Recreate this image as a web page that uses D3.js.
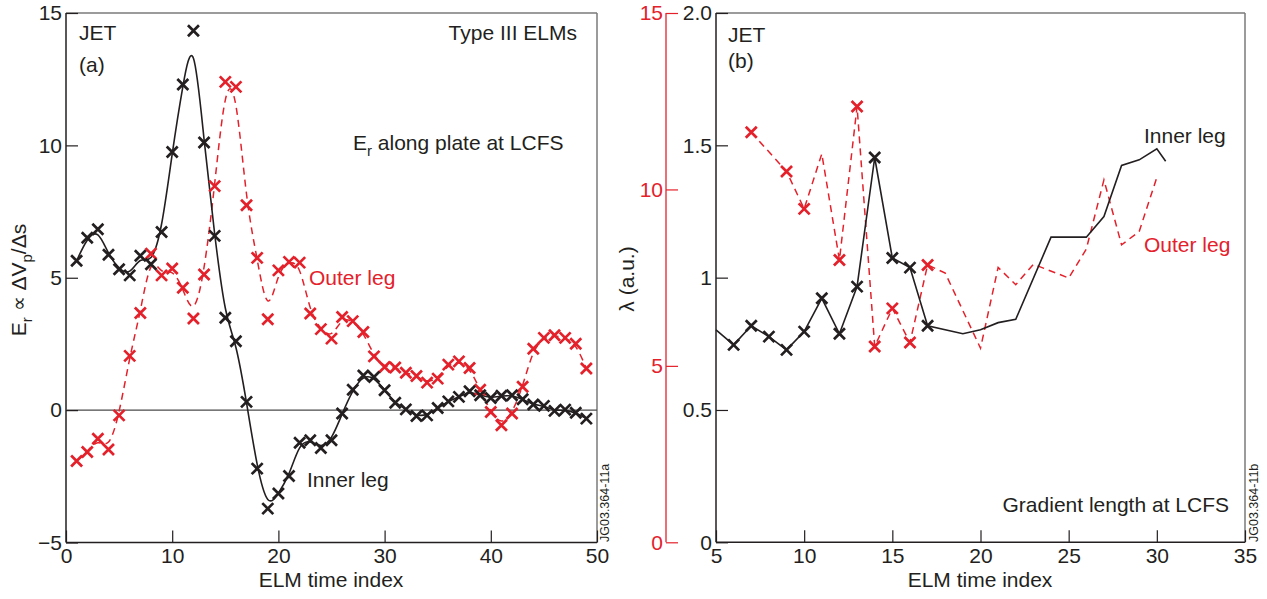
<!DOCTYPE html>
<html>
<head>
<meta charset="utf-8">
<script src="https://cdn.jsdelivr.net/npm/d3@7"></script>
<style>
  body { margin: 0; background: #fff; }
  svg text { font-family: "Liberation Sans", Arial, sans-serif; fill: #231f20; }
</style>
</head>
<body>
<div id="chart"></div>
<script>
////////////////////////////////////////////////
// data

// (a) Er along plate at LCFS
var elmIndexA = [1,2,3,4,5,6,7,8,9,10,11,12,13,14,15,16,17,18,19,20,21,22,23,24,25,
                 26,27,28,29,30,31,32,33,34,35,36,37,38,39,40,41,42,43,44,45,46,47,48,49];
var innerEr = [5.64,6.51,6.83,5.87,5.32,5.09,5.83,5.51,6.73,9.75,
               12.30,14.33,10.11,6.58,3.49,2.60,0.31,-2.21,-3.72,-3.15,
               -2.49,-1.23,-1.14,-1.43,-1.14,-0.13,0.77,1.31,1.25,0.75,
               0.28,0.03,-0.22,-0.20,0.08,0.33,0.50,0.71,0.56,0.46,
               0.54,0.56,0.41,0.21,0.16,-0.03,0.02,-0.10,-0.32];
var outerEr = [-1.92,-1.58,-1.08,-1.49,-0.20,2.05,3.67,5.91,5.09,5.35,
               4.62,3.46,5.12,8.46,12.40,12.21,7.74,5.75,3.43,5.28,
               5.60,5.57,3.65,3.06,2.70,3.52,3.36,2.95,2.03,1.63,
               1.61,1.41,1.29,1.04,1.19,1.72,1.84,1.59,0.77,-0.07,
               -0.57,-0.13,0.88,2.32,2.73,2.83,2.73,2.51,1.57];
var xTicksA = [0,10,20,30,40,50];
var yTicksA = [-5,0,5,10,15];

// (b) gradient length at LCFS
var innerMarkIdx = [6,7,8,9,10,11,12,13,14,15,16,17];
var innerMarkLambda = [0.746,0.818,0.777,0.727,0.796,0.922,0.788,0.966,1.454,1.074,1.038,0.818];
var innerLineIdx = [5,6,7,8,9,10,11,12,13,14,15,16,17,19,20,21,22,24,26,27,28,29,30,30.5];
var innerLineLambda = [0.803,0.746,0.818,0.777,0.727,0.796,0.922,0.788,0.966,1.454,1.074,1.038,0.818,
                       0.788,0.803,0.830,0.843,1.153,1.153,1.231,1.424,1.445,1.487,1.440];
var outerMarkIdx = [7,9,10,12,13,14,15,16,17];
var outerMarkVal = [11.62,10.51,9.45,8.00,12.35,5.55,6.63,5.66,7.86];
var outerLineIdx = [7,9,10,11,12,13,14,15,16,17,18,20,21,22,23,25,26,27,28,29,30];
var outerLineVal = [11.62,10.51,9.45,11.01,8.00,12.35,5.55,6.63,5.66,7.86,7.63,
                    5.50,7.79,7.30,7.88,7.49,8.31,10.27,8.43,8.81,10.34];
var xTicksB = [5,10,15,20,25,30,35];
var lambdaTicks = [0,0.5,1,1.5,2];
var lambdaTickLabels = ["0","0.5","1","1.5","2.0"];
var redTicks = [0,5,10,15];

////////////////////////////////////////////////

var red = '#e4212b';
var ink = '#231f20';
var frameGrey = '#7a7a7a';
var fs = 21;

var svg = d3.select('#chart').append('svg')
    .attr('width', 1267)
    .attr('height', 599);

function cross(g, pts, color){
    g.selectAll(null)
        .data(pts)
        .enter()
        .append('path')
        .attr('d', 'M-5.5,-5.5L5.5,5.5M-5.5,5.5L5.5,-5.5')
        .attr('transform', function(d){ return 'translate(' + d[0] + ',' + d[1] + ')'; })
        .attr('stroke', color)
        .attr('stroke-width', 2.7)
        .attr('fill', 'none');
}

function styleAxis(g, color){
    g.select('.domain').remove();
    g.selectAll('.tick line').attr('stroke', color).attr('stroke-width', 1.2);
    g.selectAll('.tick text')
        .attr('font-size', fs)
        .attr('font-family', '"Liberation Sans", Arial, sans-serif')
        .style('fill', color);
}

function label(x, y, txt, opts){
    opts = opts || {};
    return svg.append('text')
        .attr('x', x)
        .attr('y', y)
        .attr('font-size', opts.size || fs)
        .attr('text-anchor', opts.anchor || 'start')
        .style('fill', opts.color || ink)
        .text(txt);
}

////////////////////////////////////////////////
// panel (a)

var ax = d3.scaleLinear().domain([0, 50]).range([66, 597]);
var ay = d3.scaleLinear().domain([-5, 15]).range([542.5, 13]);

var pa = svg.append('g');

// frame
pa.append('line').attr('x1', ax(0)).attr('x2', ax(50)).attr('y1', ay(15)).attr('y2', ay(15))
    .attr('stroke', frameGrey).attr('stroke-width', 1.5);
pa.append('line').attr('x1', ax(50)).attr('x2', ax(50)).attr('y1', ay(15)).attr('y2', ay(-5))
    .attr('stroke', frameGrey).attr('stroke-width', 1.5);
pa.append('line').attr('x1', ax(0)).attr('x2', ax(50)).attr('y1', ay(-5)).attr('y2', ay(-5))
    .attr('stroke', ink).attr('stroke-width', 1.5);
pa.append('line').attr('x1', ax(0)).attr('x2', ax(0)).attr('y1', ay(15)).attr('y2', ay(-5))
    .attr('stroke', ink).attr('stroke-width', 1.5);
// zero line
pa.append('line').attr('x1', ax(0)).attr('x2', ax(50)).attr('y1', ay(0)).attr('y2', ay(0))
    .attr('stroke', '#4a4a4a').attr('stroke-width', 1.2);

var axA = pa.append('g')
    .attr('transform', 'translate(0,' + ay(-5) + ')')
    .call(d3.axisBottom(ax).tickValues(xTicksA).tickSizeInner(-12).tickSizeOuter(0).tickPadding(6));
styleAxis(axA, ink);
var ayA = pa.append('g')
    .attr('transform', 'translate(' + ax(0) + ',0)')
    .call(d3.axisLeft(ay).tickValues(yTicksA).tickSizeInner(-12).tickSizeOuter(0).tickPadding(4));
styleAxis(ayA, ink);

var smooth = d3.line().curve(d3.curveBasis);

var outerPtsA = elmIndexA.map(function(d, i){ return [ax(d), ay(outerEr[i])]; });
var innerPtsA = elmIndexA.map(function(d, i){ return [ax(d), ay(innerEr[i])]; });

pa.append('path')
    .attr('d', smooth(outerPtsA))
    .attr('fill', 'none')
    .attr('stroke', red)
    .attr('stroke-width', 1.5)
    .attr('stroke-dasharray', '7,5');
pa.append('path')
    .attr('d', smooth(innerPtsA))
    .attr('fill', 'none')
    .attr('stroke', ink)
    .attr('stroke-width', 1.6);

cross(pa, outerPtsA, red);
cross(pa, innerPtsA, ink);

label(79, 40, 'JET');
label(79, 72, '(a)');
label(577, 40, 'Type III ELMs', {anchor: 'end'});
var erText = label(353, 150, 'E');
erText.append('tspan').attr('dy', 6).attr('font-size', 15).text('r');
erText.append('tspan').attr('dy', -6).text(' along plate at LCFS');
label(309, 285, 'Outer leg', {color: red});
label(307, 487, 'Inner leg');
label(331, 587, 'ELM time index', {anchor: 'middle'});

var yLabA = svg.append('text')
    .attr('transform', 'translate(26,280) rotate(-90)')
    .attr('text-anchor', 'middle')
    .attr('font-size', fs)
    .style('fill', ink);
yLabA.append('tspan').text('E');
yLabA.append('tspan').attr('dy', 6).attr('font-size', 15).text('r');
yLabA.append('tspan').attr('dy', -6).text(' \u221d \u0394V');
yLabA.append('tspan').attr('dy', 6).attr('font-size', 15).text('p');
yLabA.append('tspan').attr('dy', -6).text('/\u0394s');

svg.append('text')
    .attr('transform', 'translate(609,542) rotate(-90)')
    .attr('font-size', 12.5)
    .style('fill', ink)
    .text('JG03.364-11a');

////////////////////////////////////////////////
// panel (b)

var bx = d3.scaleLinear().domain([5, 35]).range([716, 1245]);
var by = d3.scaleLinear().domain([0, 2]).range([542.3, 13]);
var byRed = d3.scaleLinear().domain([0, 15]).range([542.3, 13]);

var pb = svg.append('g');

pb.append('line').attr('x1', bx(5)).attr('x2', bx(35)).attr('y1', by(2)).attr('y2', by(2))
    .attr('stroke', frameGrey).attr('stroke-width', 1.5);
pb.append('line').attr('x1', bx(35)).attr('x2', bx(35)).attr('y1', by(2)).attr('y2', by(0))
    .attr('stroke', frameGrey).attr('stroke-width', 1.5);
pb.append('line').attr('x1', bx(5)).attr('x2', bx(35)).attr('y1', by(0)).attr('y2', by(0))
    .attr('stroke', ink).attr('stroke-width', 1.5);
pb.append('line').attr('x1', bx(5)).attr('x2', bx(5)).attr('y1', by(2)).attr('y2', by(0))
    .attr('stroke', ink).attr('stroke-width', 1.5);
// red axis
pb.append('line').attr('x1', 666).attr('x2', 666).attr('y1', byRed(15)).attr('y2', byRed(0))
    .attr('stroke', red).attr('stroke-width', 1.3);

var axB = pb.append('g')
    .attr('transform', 'translate(0,' + by(0) + ')')
    .call(d3.axisBottom(bx).tickValues(xTicksB).tickSizeInner(-12).tickSizeOuter(0).tickPadding(6));
styleAxis(axB, ink);
var ayB = pb.append('g')
    .attr('transform', 'translate(' + bx(5) + ',0)')
    .call(d3.axisLeft(by).tickValues(lambdaTicks).tickSizeInner(-12).tickSizeOuter(0).tickPadding(4)
        .tickFormat(function(d, i){ return lambdaTickLabels[i]; }));
styleAxis(ayB, ink);
var ayR = pb.append('g')
    .attr('transform', 'translate(666,0)')
    .call(d3.axisLeft(byRed).tickValues(redTicks).tickSizeInner(-12).tickSizeOuter(0).tickPadding(3));
styleAxis(ayR, red);

var straight = d3.line();

var outerLineB = outerLineIdx.map(function(d, i){ return [bx(d), byRed(outerLineVal[i])]; });
var innerLineB = innerLineIdx.map(function(d, i){ return [bx(d), by(innerLineLambda[i])]; });

pb.append('path')
    .attr('d', straight(outerLineB))
    .attr('fill', 'none')
    .attr('stroke', red)
    .attr('stroke-width', 1.5)
    .attr('stroke-dasharray', '7,5');
pb.append('path')
    .attr('d', straight(innerLineB))
    .attr('fill', 'none')
    .attr('stroke', ink)
    .attr('stroke-width', 1.6);

cross(pb, outerMarkIdx.map(function(d, i){ return [bx(d), byRed(outerMarkVal[i])]; }), red);
cross(pb, innerMarkIdx.map(function(d, i){ return [bx(d), by(innerMarkLambda[i])]; }), ink);

label(728, 42, 'JET');
label(728, 68, '(b)');
label(1144, 143, 'Inner leg');
label(1144, 252, 'Outer leg', {color: red});
label(1229, 512, 'Gradient length at LCFS', {anchor: 'end'});
label(980, 587, 'ELM time index', {anchor: 'middle'});

svg.append('text')
    .attr('transform', 'translate(634,279) rotate(-90)')
    .attr('text-anchor', 'middle')
    .attr('font-size', fs)
    .style('fill', ink)
    .text('\u03bb (a.u.)');

svg.append('text')
    .attr('transform', 'translate(1258,542) rotate(-90)')
    .attr('font-size', 12.5)
    .style('fill', ink)
    .text('JG03.364-11b');
</script>
</body>
</html>
